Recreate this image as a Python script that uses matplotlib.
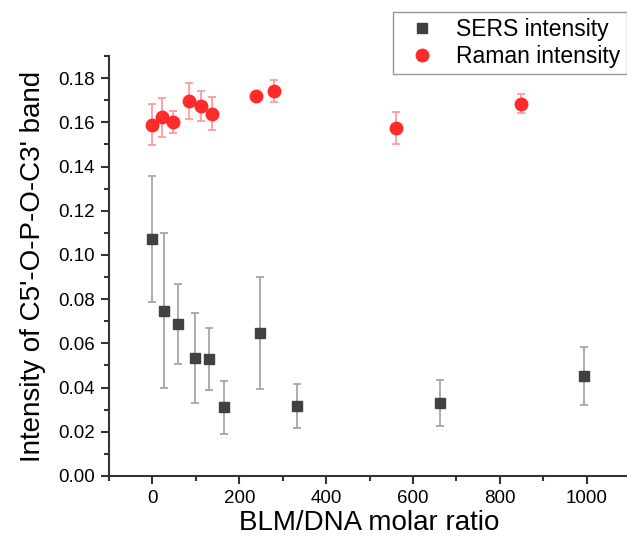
import matplotlib.pyplot as plt
from matplotlib.ticker import MultipleLocator

plt.rcParams['font.family'] = ['Liberation Sans', 'DejaVu Sans']

# SERS intensity
sers_x = [0, 27, 58, 98, 130, 166, 248, 332, 662, 994]
sers_y = [0.1073, 0.0748, 0.0687, 0.0533, 0.0530, 0.0312, 0.0647, 0.0318, 0.0332, 0.0451]
sers_err = [0.0285, 0.0350, 0.0182, 0.0203, 0.0140, 0.0120, 0.0252, 0.0099, 0.0104, 0.0132]

# Raman intensity
raman_x = [0, 21, 48, 85, 111, 138, 238, 281, 562, 849]
raman_y = [0.1589, 0.1622, 0.1601, 0.1695, 0.1675, 0.1639, 0.1720, 0.1740, 0.1575, 0.1685]
raman_err = [0.0093, 0.0088, 0.0050, 0.0081, 0.0067, 0.0074, 0.0008, 0.0050, 0.0073, 0.0042]

W, H = 627, 549
fig = plt.figure(figsize=(W / 100, H / 100), dpi=100)
ax = fig.add_axes([109 / W, (H - 476) / H, (630 - 109) / W, (476 - 56) / H])

ax.errorbar(sers_x, sers_y, yerr=sers_err, fmt='none', ecolor='#a6a6a6',
            elinewidth=1.3, capsize=3, capthick=1.3, zorder=2)
ax.errorbar(raman_x, raman_y, yerr=raman_err, fmt='none', ecolor='#ff9c9c',
            elinewidth=1.3, capsize=3, capthick=1.3, zorder=2)
ax.plot(sers_x, sers_y, 's', color='#414141', markersize=7.3, linestyle='none',
        label='SERS intensity', zorder=3)
ax.plot(raman_x, raman_y, 'o', color='#ff2b2b', markersize=9, linestyle='none',
        label='Raman intensity', zorder=3)

ax.set_xlim(-100, 1100)
ax.set_ylim(0, 0.19)
ax.xaxis.set_major_locator(MultipleLocator(200))
ax.xaxis.set_minor_locator(MultipleLocator(100))
ax.yaxis.set_major_locator(MultipleLocator(0.02))
ax.yaxis.set_minor_locator(MultipleLocator(0.01))
ax.yaxis.set_major_formatter(lambda v, p: f'{v:.2f}')

for s in ('top', 'right'):
    ax.spines[s].set_visible(False)
for s in ('left', 'bottom'):
    ax.spines[s].set_color('#333333')
    ax.spines[s].set_linewidth(1.5)
ax.tick_params(which='major', direction='out', length=6, width=1.5,
               color='#333333', labelsize=13.5, pad=4)
ax.tick_params(which='minor', direction='out', length=3.5, width=1.5, color='#333333')

ax.set_xlabel('BLM/DNA molar ratio', fontsize=20, labelpad=2)
ax.set_ylabel("Intensity of C5'-O-P-O-C3' band", fontsize=20, labelpad=9)

leg = ax.legend(loc='upper left', bbox_to_anchor=(393 / W, 1 - 12 / H),
                bbox_transform=fig.transFigure, fontsize=16.5, frameon=True,
                fancybox=False, edgecolor='#7f7f7f', handletextpad=0.48,
                borderpad=0.28, labelspacing=0.16, handlelength=2.0,
                borderaxespad=0)
leg.get_frame().set_linewidth(1.0)

fig.savefig('out.png', dpi=100)
